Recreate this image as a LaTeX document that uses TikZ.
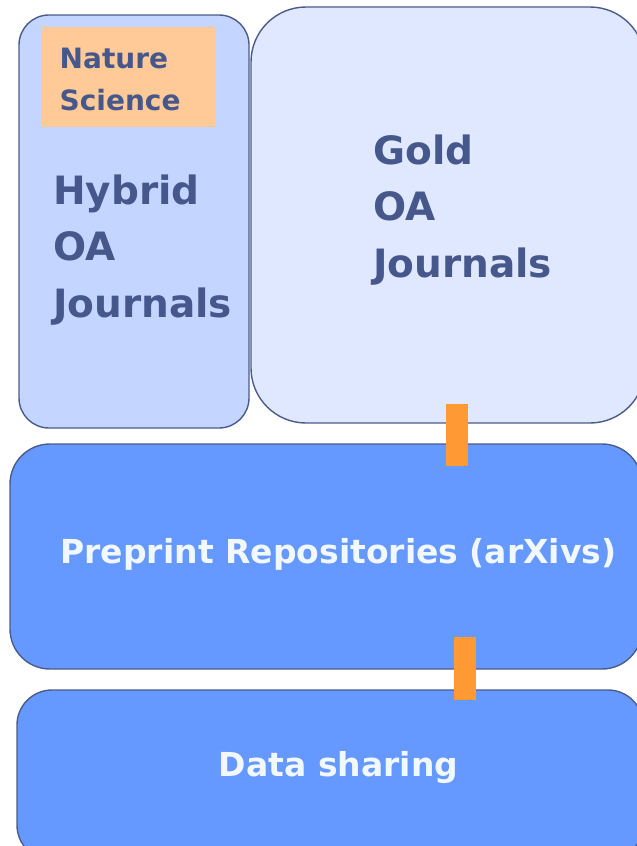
\documentclass[tikz,border=0pt]{standalone}
\usepackage{fontspec}
\setmainfont{DejaVu Sans}
\usetikzlibrary{calc}

\definecolor{boxline}{HTML}{4B5B8B}
\definecolor{textblue}{HTML}{45578B}
\definecolor{hybridfill}{HTML}{C4D6FF}
\definecolor{goldfill}{HTML}{DFE8FF}
\definecolor{repofill}{HTML}{6699FF}
\definecolor{naturefill}{HTML}{FFCA98}
\definecolor{barorange}{HTML}{FF9933}
\definecolor{lighttext}{HTML}{F2F8FF}

\tikzset{
    box/.style={draw=boxline, line width=1.4pt, inner sep=0pt},
    darktext/.style={text=textblue, font=\bfseries, align=left, inner sep=0pt},
    lighttxt/.style={text=lighttext, font=\bfseries, inner sep=0pt},
    link/.style={draw=barorange, line width=22pt}
}

\begin{document}
\begin{tikzpicture}[x=1pt, y=-1pt]
    \clip (0,0) rectangle (637,846);

    % Draw the journal boxes
    \node[box, fill=hybridfill, rounded corners=30pt, minimum width=230pt, minimum height=413pt] (hybrid) at (134,221.5) {};
    \node[box, fill=goldfill, rounded corners=55pt, minimum width=394pt, minimum height=416pt] (gold) at (448,215) {};
    \node[fill=naturefill, minimum width=174pt, minimum height=100pt, inner sep=0pt] (nature) at (129,77) {};

    % Draw the repository and data boxes
    \node[box, fill=repofill, rounded corners=40pt, minimum width=632pt, minimum height=225pt] (preprint) at (326,556.5) {};
    \node[box, fill=repofill, rounded corners=35pt, minimum width=626pt, minimum height=170pt] (data) at (330,775) {};

    % Orange links between the layers
    \coordinate (t1) at ([xshift=9pt, yshift=20pt]gold.south);
    \draw[link] (t1) -- (t1 |- preprint.north) -- ++(0,23);
    \coordinate (t2) at (464.5,637);
    \draw[link] (t2) -- (t2 |- data.north) -- ++(0,11);

    % Labels (base is the last line)
    \node[darktext, anchor=base west, font=\fontsize{28}{42}\selectfont\bfseries] (naturetext) at (59.5,110) {Nature\\Science};
    \node[darktext, anchor=base west, font=\fontsize{39}{56.5}\selectfont\bfseries] (hybridtext) at (53,317) {Hybrid\\OA\\Journals};
    \node[darktext, anchor=base west, font=\fontsize{39}{56.5}\selectfont\bfseries] (goldtext) at (373,277) {Gold\\OA\\Journals};
    \node[lighttxt, anchor=base, font=\fontsize{33}{40}\selectfont\bfseries] (preprinttext) at (338.5,563) {Preprint Repositories (arXivs)};
    \node[lighttxt, anchor=base, font=\fontsize{33}{40}\selectfont\bfseries] (datatext) at (338.5,776) {Data sharing};
\end{tikzpicture}
\end{document}
